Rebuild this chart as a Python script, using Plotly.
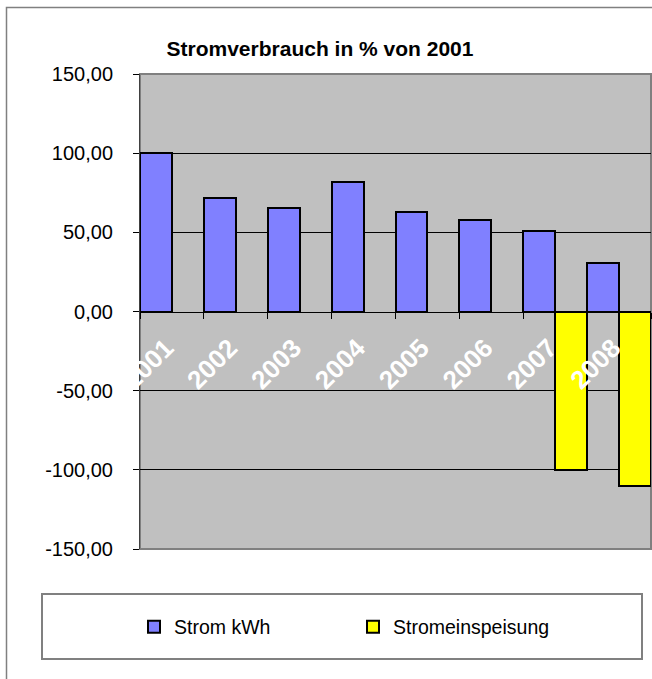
import plotly.graph_objects as go

# ---- data ----
years = ["2001", "2002", "2003", "2004", "2005", "2006", "2007", "2008"]
strom_kwh = [100.0, 72.0, 65.5, 82.0, 63.0, 57.5, 51.0, 30.5]
stromeinspeisung = [None, None, None, None, None, None, -100.0, -110.0]
y_tick_vals = [-150, -100, -50, 0, 50, 100, 150]
y_tick_text = [f"{v:.2f}".replace(".", ",") for v in y_tick_vals]
grid_vals = [-100, -50, 50, 100]

W, H = 652, 679
L, R, T, B = 140, 1, 74, 130
PW, PH = W - L - R, H - T - B
FONT = "Liberation Sans, Arial, sans-serif"


def px_x(px):
    return (px - L) / PW


def px_y(py):
    return (H - B - py) / PH


fig = go.Figure()
fig.add_bar(x=years, y=strom_kwh, name="Strom kWh",
            marker=dict(color="#8080FF", line=dict(color="black", width=2)))
fig.add_bar(x=years, y=stromeinspeisung, name="Stromeinspeisung",
            marker=dict(color="#FFFF00", line=dict(color="black", width=2)))

fig.update_layout(
    width=W, height=H,
    margin=dict(l=L, r=R, t=T, b=B, pad=0),
    paper_bgcolor="white",
    plot_bgcolor="#C0C0C0",
    separators=",.",
    barmode="group", bargap=0, bargroupgap=0,
    font=dict(family=FONT, color="black"),
    title=dict(text="Stromverbrauch in % von 2001",
               font=dict(family=FONT, size=21, weight="bold", color="black"),
               x=320 / W, xref="container", xanchor="center",
               y=1 - 48.5 / H, yref="container", yanchor="middle"),
    showlegend=True,
    legend=dict(orientation="h", x=px_x(134), xanchor="left",
                y=px_y(627), yanchor="middle",
                bgcolor="rgba(0,0,0,0)", borderwidth=0,
                font=dict(family=FONT, size=19.5, color="black"),
                entrywidth=174, entrywidthmode="pixels",
                traceorder="normal"),
    xaxis=dict(type="category", range=[-0.5, 7.5],
               anchor="free", position=0.5,
               showline=True, linecolor="black", linewidth=1,
               ticks="outside", tickson="boundaries", ticklen=6,
               tickcolor="black", tickwidth=1,
               tickangle=-45, ticklabelstandoff=10, ticklabelshift=-6,
               tickfont=dict(family=FONT, size=26, weight="bold", color="white"),
               showgrid=False, zeroline=False, fixedrange=True),
    yaxis=dict(range=[-150, 150], tickmode="array", tickvals=y_tick_vals,
               ticktext=y_tick_text,
               showline=True, linecolor="#404040", linewidth=1,
               ticks="outside", ticklen=6, tickcolor="black", tickwidth=1,
               ticklabelstandoff=16,
               tickfont=dict(family=FONT, size=20, color="black"),
               showgrid=False, zeroline=False,
               minor=dict(tickmode="array", tickvals=grid_vals, showgrid=True,
                          gridcolor="black", gridwidth=1, ticks=""),
               fixedrange=True),
    shapes=[
        # outer chart border
        dict(type="rect", xref="paper", yref="paper",
             x0=px_x(6.5), x1=1.3, y0=-0.6, y1=px_y(7.5),
             line=dict(color="#808080", width=1.5), fillcolor="rgba(0,0,0,0)",
             layer="below"),
        # plot area border
        dict(type="rect", xref="paper", yref="paper",
             x0=0, x1=1, y0=0, y1=1,
             line=dict(color="#808080", width=2), fillcolor="rgba(0,0,0,0)",
             layer="below"),
        # legend box
        dict(type="rect", xref="paper", yref="paper",
             x0=px_x(42), x1=px_x(642), y0=px_y(659), y1=px_y(594),
             line=dict(color="#808080", width=2), fillcolor="white",
             layer="below"),
    ],
)

fig.write_html(
    "out.html",
    config={"displayModeBar": False},
    post_script="document.body.style.margin='0';document.body.style.overflow='hidden';",
)
